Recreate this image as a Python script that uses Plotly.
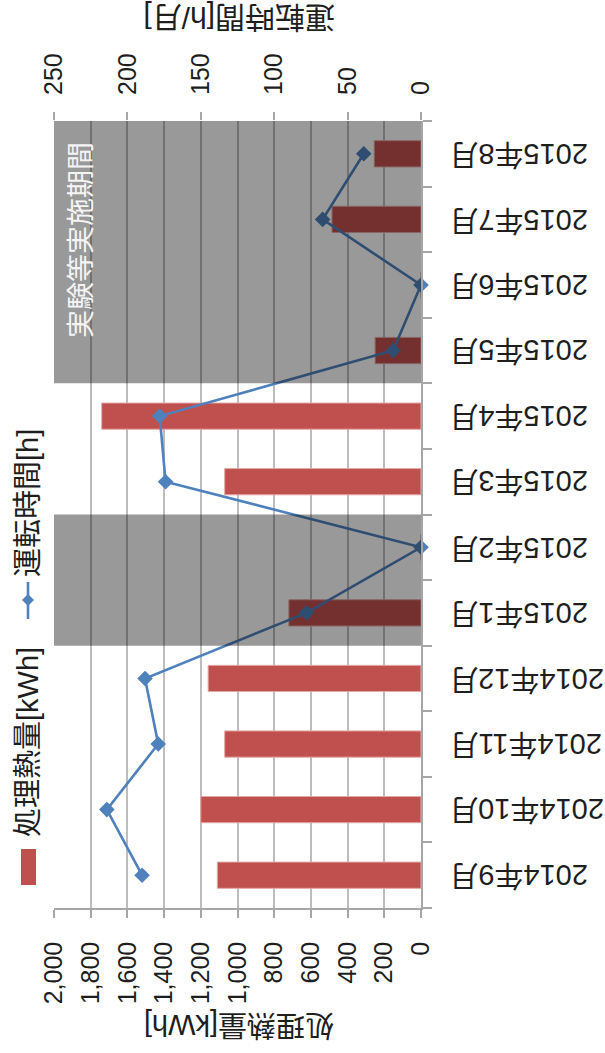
import plotly.graph_objects as go

# Monthly data
months = ["2014年9月", "2014年10月", "2014年11月", "2014年12月",
          "2015年1月", "2015年2月", "2015年3月", "2015年4月",
          "2015年5月", "2015年6月", "2015年7月", "2015年8月"]
heat_kwh = [1110, 1200, 1070, 1160, 720, 0, 1070, 1740, 250, 0, 485, 255]
run_hours = [190, 214, 179, 188, 78, 0, 174, 178, 19, 0, 67, 39]

kwh_ticks = [0, 200, 400, 600, 800, 1000, 1200, 1400, 1600, 1800, 2000]
kwh_labels = ["0", "200", "400", "600", "800", "1,000", "1,200", "1,400",
              "1,600", "1,800", "2,000"]
hour_ticks = [0, 50, 100, 150, 200, 250]

# Periods when experiments were carried out
experiment_periods = [("2015年1月", "2015年2月"), ("2015年5月", "2015年8月")]

bar_name = "処理熱量[kWh]"
line_name = "運転時間[h]"
left_title = "処理熱量[kWh]"
right_title = "運転時間[h/月]"
period_label = "実験等実施期間"

BAR_COLOR = "#C0504D"
LINE_COLOR = "#4F81BD"
TEXT_COLOR = "#1e1e1e"
FONT = "Liberation Sans, Noto Sans CJK JP, sans-serif"

W, H = 605, 1053
L, R, T, B = 54, 184, 121, 145
PW, PH = W - L - R, H - T - B


def px_x(px):
    return (px - L) / PW


def px_y(py):
    return (H - B - py) / PH


fig = go.Figure()

fig.add_trace(go.Bar(
    x=heat_kwh, y=months, orientation="h", name=bar_name,
    marker=dict(color=BAR_COLOR, line=dict(color="#e3a9a7", width=1)),
    xaxis="x", yaxis="y", showlegend=False,
))

fig.add_trace(go.Scatter(
    x=run_hours, y=months, mode="lines+markers", name=line_name,
    line=dict(color=LINE_COLOR, width=2.6),
    marker=dict(symbol="diamond", size=12, color=LINE_COLOR),
    xaxis="x2", yaxis="y", showlegend=False, cliponaxis=False,
))

shapes = []
for start, end in experiment_periods:
    shapes.append(dict(
        type="rect", xref="paper", yref="y",
        x0=0, x1=1,
        y0=months.index(start) - 0.5, y1=months.index(end) + 0.5,
        fillcolor="rgba(0,0,0,0.4)", line=dict(width=0), layer="above",
    ))

# Legend swatches drawn in the left margin
shapes.append(dict(
    type="rect", xref="paper", yref="paper",
    x0=px_x(21), x1=px_x(36), y0=px_y(885), y1=px_y(849),
    fillcolor=BAR_COLOR, line=dict(width=0),
))
shapes.append(dict(
    type="line", xref="paper", yref="paper",
    x0=px_x(28), x1=px_x(28), y0=px_y(619), y1=px_y(582),
    line=dict(color=LINE_COLOR, width=2.6),
))
cx, cy, d = 28, 600, 6
shapes.append(dict(
    type="path", xref="paper", yref="paper",
    path=(f"M {px_x(cx)},{px_y(cy - d)} L {px_x(cx + d)},{px_y(cy)} "
          f"L {px_x(cx)},{px_y(cy + d)} L {px_x(cx - d)},{px_y(cy)} Z"),
    fillcolor=LINE_COLOR, line=dict(width=0),
))

annotations = []
# Month labels on the category axis, drawn upside down
for m in months:
    annotations.append(dict(
        text=m, xref="paper", yref="y", x=1, y=m, xshift=26,
        xanchor="left", yanchor="middle", textangle=180, showarrow=False,
        font=dict(family=FONT, size=29, color=TEXT_COLOR),
    ))

annotations += [
    dict(text=bar_name, xref="paper", yref="paper", x=px_x(28), y=px_y(742),
         textangle=-90, showarrow=False, xanchor="center", yanchor="middle",
         font=dict(family=FONT, size=29, color=TEXT_COLOR)),
    dict(text=line_name, xref="paper", yref="paper", x=px_x(28), y=px_y(503),
         textangle=-90, showarrow=False, xanchor="center", yanchor="middle",
         font=dict(family=FONT, size=29, color=TEXT_COLOR)),
    dict(text=period_label, xref="paper", yref="paper", x=px_x(81), y=px_y(240),
         textangle=-90, showarrow=False, xanchor="center", yanchor="middle",
         font=dict(family=FONT, size=28, color="#f4f4f4")),
    dict(text=right_title, xref="paper", yref="paper", x=px_x(239), y=px_y(18),
         textangle=180, showarrow=False, xanchor="center", yanchor="middle",
         font=dict(family=FONT, size=30, color=TEXT_COLOR)),
    dict(text=left_title, xref="paper", yref="paper", x=px_x(239), y=px_y(1025),
         textangle=180, showarrow=False, xanchor="center", yanchor="middle",
         font=dict(family=FONT, size=29, color=TEXT_COLOR)),
]

fig.update_layout(
    width=W, height=H,
    margin=dict(l=L, r=R, t=T, b=B, pad=0),
    paper_bgcolor="white", plot_bgcolor="white",
    bargap=0.6,
    showlegend=False,
    xaxis=dict(
        range=[2000, 0], tickvals=kwh_ticks, ticktext=kwh_labels,
        tickangle=-90, side="bottom",
        showgrid=True, gridcolor="#bdbdbd", gridwidth=1.5,
        showline=True, linecolor="#a6a6a6", linewidth=1.5,
        ticks="outside", ticklen=8, tickcolor="#a6a6a6", tickwidth=1.5,
        ticklabelstandoff=14,
        tickfont=dict(family=FONT, size=25, color=TEXT_COLOR),
        zeroline=False, fixedrange=True,
    ),
    xaxis2=dict(
        range=[250, 0], tickvals=hour_ticks, overlaying="x", side="top",
        tickangle=-90, showgrid=False, showline=False,
        ticks="outside", ticklen=8, tickcolor="#a6a6a6", tickwidth=1.5,
        ticklabelstandoff=12,
        tickfont=dict(family=FONT, size=25, color=TEXT_COLOR),
        zeroline=False, fixedrange=True,
    ),
    yaxis=dict(
        type="category", categoryorder="array", categoryarray=months,
        range=[-0.5, len(months) - 0.5], side="right",
        showticklabels=False, showgrid=False,
        showline=True, linecolor="#a6a6a6", linewidth=1.5,
        ticks="outside", ticklen=9, tickcolor="#a6a6a6", tickwidth=1.5,
        tickson="boundaries", zeroline=False, fixedrange=True,
    ),
    shapes=shapes,
    annotations=annotations,
)

fig.write_html("out.html")
